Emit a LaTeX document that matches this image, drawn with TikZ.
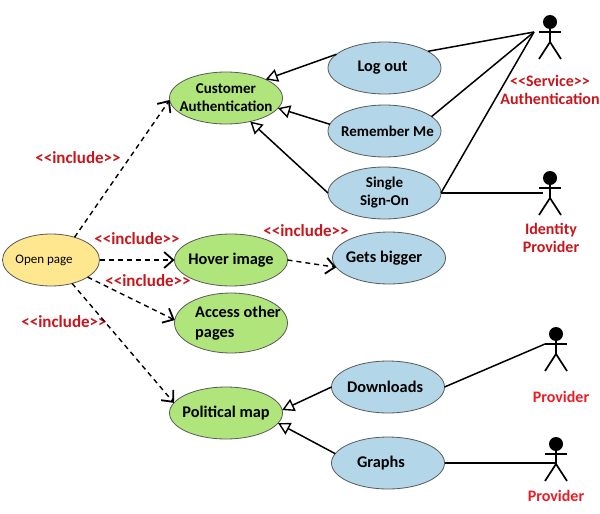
\documentclass[tikz,border=0pt]{standalone}
\usepackage{fontspec}
\setmainfont{Carlito}
\usetikzlibrary{positioning,arrows.meta,shapes.geometric}

\definecolor{casegreen}{HTML}{B0E57C}
\definecolor{caseblue}{HTML}{B3D7E8}
\definecolor{caseyellow}{HTML}{FFE78F}
\definecolor{noteredd}{HTML}{C8161D}
\definecolor{notebright}{HTML}{ED1C24}

\begin{document}
\begin{tikzpicture}[
    x=1pt, y=-1pt,
    usecase/.style={ellipse, draw=black!65, thick, minimum width=113pt, minimum height=52pt, inner sep=-14pt, outer sep=0pt, align=center, font=\bfseries\fontsize{16.3}{18}\selectfont},
    smalltext/.style={font=\bfseries\fontsize{15}{18}\selectfont},
    greencase/.style={usecase, fill=casegreen},
    bluecase/.style={usecase, fill=caseblue},
    startcase/.style={usecase, fill=caseyellow, minimum width=97pt, font=\fontsize{13}{15}\selectfont},
    includetag/.style={text=noteredd, font=\bfseries\fontsize{17}{17}\selectfont},
    actortag/.style={text=noteredd, align=center, font=\bfseries\fontsize{16}{18}\selectfont},
    providertag/.style={text=notebright, font=\bfseries\fontsize{16}{18}\selectfont},
    includeline/.style={dashed, dash pattern=on 5pt off 4pt, line width=1.4pt, -{Straight Barb[length=9pt,width=16pt,line width=1.8pt]}},
    extendline/.style={line width=1.5pt, -{Triangle[open,length=12pt,width=13pt,line width=1.4pt]}},
    assocline/.style={line width=1.5pt},
    actorfig/.pic={
        \fill[black] (0,0) circle (7pt);
        \draw[line width=1.7pt] (-11,10) -- (11,10);
        \draw[line width=1.7pt] (0,0) -- (0,20);
        \draw[line width=1.7pt] (-11,37) -- (0,20) -- (11,37);
    },
    ]
    \useasboundingbox (0,0) rectangle (600,514);

    %Nodes
    \node[startcase]  (openpage) at (51,260)                       {Open page\hspace*{14pt}};
    \node[greencase, smalltext]  (custauth) at (226,98)            {Customer\\Authentication};
    \node[bluecase]   (logout)   [right=45.5pt of custauth, yshift=30pt] {Log out\hspace*{4pt}};
    \node[bluecase, smalltext]   (remember) [below=11pt of logout] {\hspace*{6pt}Remember Me};
    \node[bluecase, smalltext]   (single)   [below=10pt of remember] {Single\\Sign-On};
    \node[greencase]  (hover)    [right=75pt of openpage]          {Hover image};
    \node[bluecase]   (bigger)   [right=45pt of hover, yshift=2pt] {Gets bigger\hspace*{10pt}};
    \node[greencase, minimum height=60pt, align=left, font=\bfseries\fontsize{16.3}{20}\selectfont] (access) [below=7pt of hover] {\hspace*{14pt}Access other\\\hspace*{14pt}pages};
    \node[greencase]  (polmap)   at (226,413)                      {Political map};
    \node[bluecase]   (download) [right=49pt of polmap, yshift=26pt] {Downloads\hspace*{6pt}};
    \node[bluecase]   (graphs)   [below=24pt of download]          {Graphs\hspace*{14pt}};

    %Actors
    \pic (svcactor)  at (550,22)  {actorfig};
    \pic (idactor)   at (550,178) {actorfig};
    \pic (provone)   at (556,334) {actorfig};
    \pic (provtwo)   at (556,444) {actorfig};
    \coordinate (svcend)  at (534,32);
    \coordinate (idend)   at (543,193);
    \coordinate (oneend)  at (545,344);
    \coordinate (twoend)  at (556,463);

    %Labels
    \node[includetag] (tagauth)   at (78,158)  {<{}<include>{}>};
    \node[includetag] (taghover)  at (137,239) {<{}<include>{}>};
    \node[includetag] (tagaccess) at (148,281) {<{}<include>{}>};
    \node[includetag] (tagmap)    at (64,322)  {<{}<include>{}>};
    \node[includetag] (tagbigger) at (306,231) {<{}<include>{}>};
    \node[actortag]   (tagsvc)    at (550,90)  {<{}<Service>{}>\\Authentication};
    \node[actortag]   (tagid)     at (551,238) {Identity\\Provider};
    \node[providertag] (tagone)   at (561,397) {Provider};
    \node[providertag] (tagtwo)   at (556,496) {Provider};

    %Lines
    \draw[includeline] (openpage.44) -- (custauth.182);
    \draw[includeline] (openpage.east) -- (hover.west);
    \draw[includeline] (openpage.335) -- (access.177);
    \draw[includeline] (openpage.312) -- (polmap.169);
    \draw[includeline] (hover.east) -- (bigger.190);

    \draw[extendline] (logout.164) -- (custauth.25);
    \draw[extendline] (remember.173) -- (custauth.349);
    \draw[extendline] (single.west) -- (custauth.316);
    \draw[extendline] (download.west) -- (polmap.3);
    \draw[extendline] (graphs.170) -- (polmap.349);

    \draw[assocline] (logout.21) -- (svcend);
    \draw[assocline] (remember.17) -- (svcend);
    \draw[assocline] (single.east) -- (svcend);
    \draw[assocline] (single.east) -- (idend);
    \draw[assocline] (download.east) -- (oneend);
    \draw[assocline] (graphs.east) -- (twoend);
\end{tikzpicture}
\end{document}
